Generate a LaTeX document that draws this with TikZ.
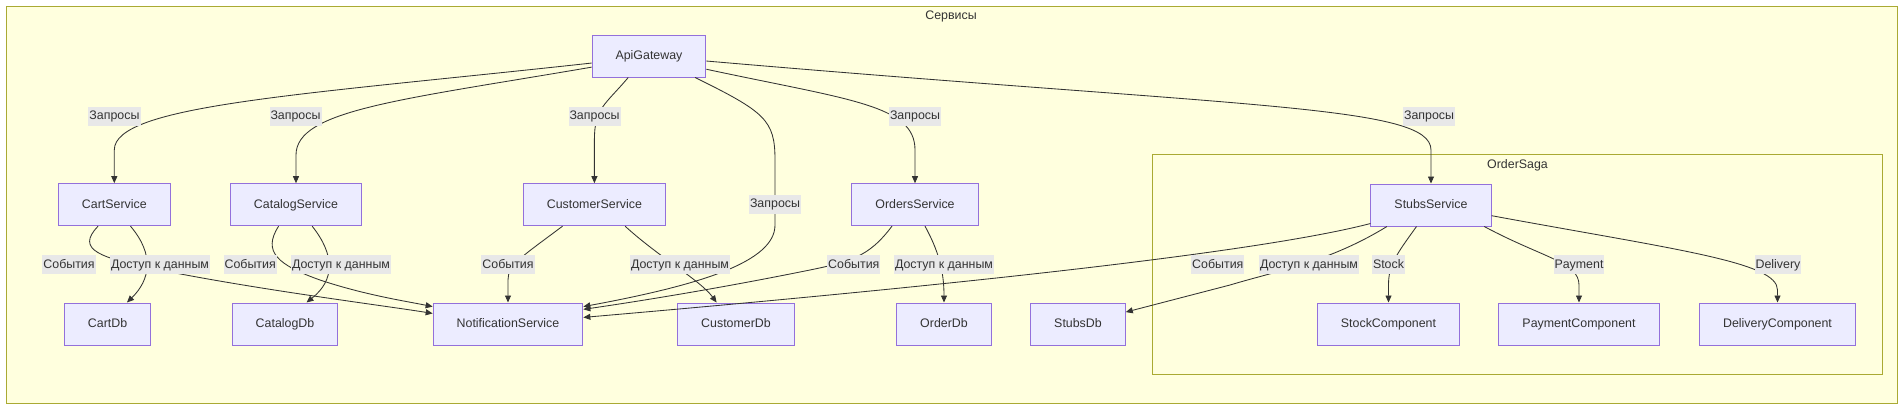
\documentclass[tikz,border=0pt]{standalone}
\usepackage{fontspec}
\setmainfont{Liberation Sans}
\usetikzlibrary{arrows.meta}
\definecolor{nodefill}{HTML}{ECECFF}
\definecolor{nodeline}{HTML}{9370DB}
\definecolor{grpfill}{HTML}{FFFFDE}
\definecolor{grpline}{HTML}{AAAA33}
\definecolor{ink}{HTML}{333333}
\definecolor{lblfill}{HTML}{E8E8E8}

\begin{document}
\begin{tikzpicture}[x=1pt,y=-1pt,
  font=\fontsize{12.4}{15}\selectfont, text=ink,
  svc/.style={draw=nodeline,fill=nodefill,line width=1pt,minimum height=42pt,inner xsep=23.5pt,text height=10.5pt,text depth=2.8pt},
  lbl/.style={fill=lblfill,inner xsep=1pt,inner ysep=0pt,minimum height=19pt,text height=10.5pt,text depth=2.8pt},
  grp/.style={draw=grpline,fill=grpfill,line width=1pt},
  flow/.style={draw=ink,line width=0.85pt,-{Triangle[length=7pt,width=6pt]}}]
\useasboundingbox (0,0) rectangle (1904,410);
\draw[grp] (6,6) rectangle (1897.5,403.5);
\draw (951,16) node[text height=10.5pt,text depth=2.8pt](servtitle) {Сервисы};
\draw[grp] (1152.7,154.3) rectangle (1882.3,374);
\draw (1517.5,164.5) node[text height=10.5pt,text depth=2.8pt](sagatitle) {OrderSaga};

\draw (649,56) node[svc](api) {ApiGateway};
\draw (114.3,204.7) node[svc](cart) {CartService};
\draw (296,204.7) node[svc](catalog) {CatalogService};
\draw (594.4,204.7) node[svc](customer) {CustomerService};
\draw (915,204.7) node[svc](orders) {OrdersService};
\draw (1431,205) node[svc](stubs) {StubsService};
\draw (107.6,324) node[svc](cartdb) {CartDb};
\draw (285,324) node[svc](catalogdb) {CatalogDb};
\draw (508,324) node[svc](notif) {NotificationService};
\draw (736,324) node[svc](customerdb) {CustomerDb};
\draw (944,324) node[svc](orderdb) {OrderDb};
\draw (1078,324) node[svc](stubsdb) {StubsDb};
\draw (1388.5,324) node[svc](stock) {StockComponent};
\draw (1579,324) node[svc](payment) {PaymentComponent};
\draw (1777.5,324) node[svc](delivery) {DeliveryComponent};

\draw[flow] (api.187) .. controls (300,95) and (114.3,105) .. (114.3,150) -- (cart.north);
\draw[flow] (api.191) .. controls (400,100) and (296,110) .. (296,155) -- (catalog.north);
\draw[flow] (api.226) .. controls (605,105) and (594.4,108) .. (594.4,140) -- (customer.north);
\draw[flow] (api.335) .. controls (765,112) and (775,120) .. (775,160) -- (775,225) .. controls (775,262) and (700,285) .. (notif.13);
\draw[flow] (api.347) .. controls (850,100) and (915,105) .. (915,150) -- (orders.north);
\draw[flow] (api.355) .. controls (1250,108) and (1431,105) .. (1431,150) -- (stubs.north);

\draw[flow] (cart.307) .. controls (155,255) and (150,280) .. (cartdb.48);
\draw[flow] (cart.233) .. controls (75,250) and (100,258) .. (160,270) .. controls (260,290) and (380,305) .. (notif.172);
\draw[flow] (catalog.307) .. controls (335,255) and (335,280) .. (catalogdb.45);
\draw[flow] (catalog.231) .. controls (262,252) and (278,265) .. (320,280) .. controls (365,295) and (405,301) .. (notif.167);
\draw[flow] (customer.214) .. controls (520,258) and (508,265) .. (508,280) -- (notif.north);
\draw[flow] (customer.325) .. controls (660,258) and (700,280) .. (customerdb.132);
\draw[flow] (orders.223) .. controls (868,258) and (850,262) .. (800,272) .. controls (700,292) and (620,304) .. (notif.11);
\draw[flow] (orders.295) .. controls (938,250) and (944,270) .. (orderdb.north);

\draw[flow] (stubs.197) .. controls (1250,255) and (900,290) .. (notif.5);
\draw[flow] (stubs.206) .. controls (1329,262) and (1280,270) .. (1230,285) -- (stubsdb.14);
\draw[flow] (stubs.236) .. controls (1396,255) and (1388.5,265) .. (1388.5,285) -- (stock.north);
\draw[flow] (stubs.338) .. controls (1543,258) and (1579,262) .. (1579,285) -- (payment.north);
\draw[flow] (stubs.350) .. controls (1678,250) and (1777.5,262) .. (1777.5,290) -- (delivery.north);

\draw (114.5,116) node[lbl](qcart) {Запросы};
\draw (295.5,116) node[lbl](qcatalog) {Запросы};
\draw (594.5,116) node[lbl](qcustomer) {Запросы};
\draw (775,204) node[lbl](qnotif) {Запросы};
\draw (915,116) node[lbl](qorders) {Запросы};
\draw (1429,116) node[lbl](qstubs) {Запросы};
\draw (69,264.5) node[lbl](evcart) {События};
\draw (160,264.5) node[lbl](dbcart) {Доступ к данным};
\draw (250.2,264.5) node[lbl](evcatalog) {События};
\draw (341,264.5) node[lbl](dbcatalog) {Доступ к данным};
\draw (508,264.5) node[lbl](evcustomer) {События};
\draw (680,264.5) node[lbl](dbcustomer) {Доступ к данным};
\draw (853.8,264.5) node[lbl](evorders) {События};
\draw (944,264.5) node[lbl](dborders) {Доступ к данным};
\draw (1217.8,264.5) node[lbl](evstubs) {События};
\draw (1309,264.5) node[lbl](dbstubs) {Доступ к данным};
\draw (1388.5,264.5) node[lbl](lstock) {Stock};
\draw (1579,264.5) node[lbl](lpayment) {Payment};
\draw (1778,264.5) node[lbl](ldelivery) {Delivery};
\end{tikzpicture}
\end{document}
